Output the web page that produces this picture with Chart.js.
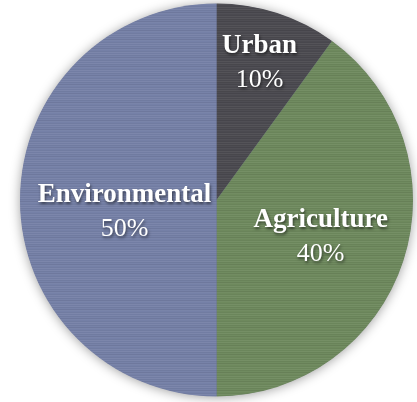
<!DOCTYPE html>
<html>
<head>
<meta charset="utf-8">
<script src="https://cdn.jsdelivr.net/npm/chart.js@4/dist/chart.umd.min.js"></script>
<style>
  html, body { margin: 0; padding: 0; background: #ffffff; }
  #wrap { width: 417px; height: 402px; position: relative; }
</style>
</head>
<body>
<div id="wrap"><canvas id="c" width="417" height="402"></canvas></div>
<script>
const categories = ["Urban", "Agriculture", "Environmental"];
const shares = [10, 40, 50];
const percentLabels = ["10%", "40%", "50%"];

const sliceColors = ["#4b4a50", "#6e895d", "#7580a7"];
// label placement (radial fraction and angle shift in degrees), like Excel best fit
const labelRadial = [0.75, 0.556, 0.47];
const labelAngleShift = [-1, -0.5, -5];

// subtle horizontal-streak texture, like the reference's brushed fill
function streakPattern(base) {
  const c = document.createElement('canvas');
  c.width = 64; c.height = 9;
  const g = c.getContext('2d');
  g.fillStyle = base;
  g.fillRect(0, 0, 64, 9);
  const rows = [0.05, -0.04, 0.02, -0.06, 0.03, 0.0, -0.03, 0.05, -0.02];
  rows.forEach((a, y) => {
    g.fillStyle = a > 0 ? `rgba(255,255,255,${a})` : `rgba(0,0,0,${-a})`;
    g.fillRect(0, y, 64, 1);
  });
  return g.createPattern(c, 'repeat');
}

const pieShadow = {
  id: 'pieShadow',
  beforeDatasetsDraw(chart) {
    const arc = chart.getDatasetMeta(0).data[0];
    if (!arc) return;
    const ctx = chart.ctx;
    ctx.save();
    ctx.shadowColor = 'rgba(0,0,0,0.4)';
    ctx.shadowBlur = 12;
    ctx.shadowOffsetX = 0;
    ctx.shadowOffsetY = 1;
    ctx.beginPath();
    ctx.arc(arc.x, arc.y, arc.outerRadius - 0.5, 0, Math.PI * 2);
    ctx.fillStyle = '#6a7090';
    ctx.fill();
    ctx.restore();
  }
};

const sliceLabels = {
  id: 'sliceLabels',
  afterDatasetsDraw(chart) {
    const ctx = chart.ctx;
    const meta = chart.getDatasetMeta(0);
    meta.data.forEach((arc, i) => {
      const mid = (arc.startAngle + arc.endAngle) / 2 + labelAngleShift[i] * Math.PI / 180;
      const r = arc.outerRadius * labelRadial[i];
      const cx = arc.x + Math.cos(mid) * r;
      const cy = arc.y + Math.sin(mid) * r;
      ctx.save();
      ctx.fillStyle = '#ffffff';
      ctx.textAlign = 'center';
      ctx.textBaseline = 'alphabetic';
      ctx.shadowColor = 'rgba(0,0,0,0.55)';
      ctx.shadowBlur = 3;
      ctx.shadowOffsetX = 1;
      ctx.shadowOffsetY = 2;
      ctx.font = 'bold 27px "Liberation Serif", serif';
      ctx.fillText(chart.data.labels[i], cx, cy - 6);
      ctx.font = '26px "Liberation Serif", serif';
      ctx.fillText(percentLabels[i], cx, cy + 28);
      ctx.restore();
    });
  }
};

new Chart(document.getElementById('c'), {
  type: 'pie',
  data: {
    labels: categories,
    datasets: [{
      data: shares,
      backgroundColor: sliceColors.map(streakPattern),
      borderWidth: 0
    }]
  },
  options: {
    responsive: false,
    animation: false,
    layout: { padding: { left: 20, right: 4, top: 3, bottom: 5 } },
    plugins: {
      legend: { display: false },
      tooltip: { enabled: false }
    }
  },
  plugins: [pieShadow, sliceLabels]
});
</script>
</body>
</html>
